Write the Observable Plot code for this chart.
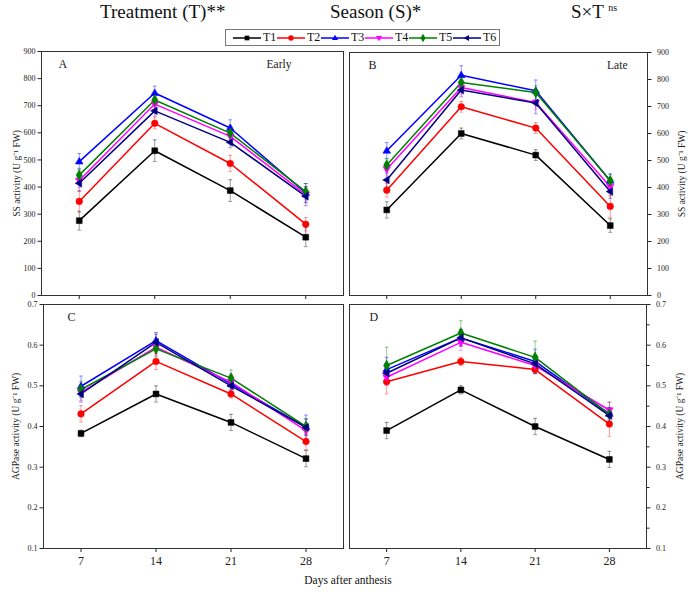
<!DOCTYPE html>
<html>
<head>
<meta charset="utf-8">
<script src="https://cdn.jsdelivr.net/npm/d3@7"></script>
<script src="https://cdn.jsdelivr.net/npm/@observablehq/plot@0.6"></script>
<style>
  body { margin: 0; background: white; }
  #wrap { position: relative; width: 688px; height: 592px; font-family: "Liberation Serif", serif; color: #111; }
  .abs { position: absolute; }
  .title { font-size: 19px; top: 1px; white-space: nowrap; }
  #legend { left: 225px; top: 29px; width: 275px; height: 17px; border: 1px solid #777; display: flex; align-items: center; padding-left: 7px; box-sizing: border-box; font-size: 12px; }
  #legend .item { display: flex; align-items: center; flex-shrink: 0; }
  #xlab { top: 574px; left: 248px; width: 200px; text-align: center; font-size: 11.5px; }
</style>
</head>
<body>
<div id="wrap">
  <div class="abs title" style="left:100px">Treatment (T)**</div>
  <div class="abs title" style="left:330px">Season (S)*</div>
  <div class="abs title" style="left:571px">S×T <sup style="font-size:10px">ns</sup></div>
  <div id="legend" class="abs"></div>
  <div id="xlab" class="abs">Days after anthesis</div>
</div>
<script>
const days = [7, 14, 21, 28];
const treatments = ["T1", "T2", "T3", "T4", "T5", "T6"];
const colors = ["#000000", "#ff0000", "#0000ff", "#ff00ff", "#008000", "#000080"];
const ssTicks = [0, 100, 200, 300, 400, 500, 600, 700, 800, 900];
const agpTicks = [0.1, 0.2, 0.3, 0.4, 0.5, 0.6, 0.7];

const ssEarly = [
  [276, 534, 387, 215],
  [347, 635, 487, 263],
  [494, 747, 618, 378],
  [424, 706, 587, 372],
  [444, 721, 599, 383],
  [414, 681, 565, 366]
];
const ssEarlyErr = [
  [35, 40, 40, 35],
  [40, 20, 30, 25],
  [30, 25, 30, 35],
  [25, 25, 25, 30],
  [25, 25, 25, 30],
  [30, 20, 20, 35]
];
const ssLate = [
  [317, 600, 520, 259],
  [390, 699, 620, 330],
  [536, 816, 758, 425],
  [468, 770, 715, 403],
  [483, 789, 752, 425],
  [428, 761, 713, 385]
];
const ssLateErr = [
  [30, 20, 20, 25],
  [25, 20, 20, 40],
  [30, 35, 40, 25],
  [25, 25, 25, 25],
  [25, 25, 25, 25],
  [25, 25, 40, 25]
];
const agpEarly = [
  [0.383, 0.480, 0.410, 0.321],
  [0.431, 0.560, 0.480, 0.363],
  [0.499, 0.611, 0.505, 0.398],
  [0.484, 0.595, 0.509, 0.390],
  [0.491, 0.591, 0.519, 0.400],
  [0.480, 0.607, 0.500, 0.398]
];
const agpEarlyErr = [
  [0.008, 0.02, 0.02, 0.02],
  [0.02, 0.02, 0.01, 0.02],
  [0.025, 0.02, 0.02, 0.03],
  [0.02, 0.02, 0.02, 0.02],
  [0.02, 0.02, 0.02, 0.02],
  [0.02, 0.02, 0.02, 0.02]
];
const agpLate = [
  [0.390, 0.490, 0.400, 0.319],
  [0.510, 0.560, 0.540, 0.406],
  [0.540, 0.618, 0.560, 0.431],
  [0.521, 0.607, 0.550, 0.440],
  [0.550, 0.630, 0.570, 0.430],
  [0.531, 0.618, 0.554, 0.427]
];
const agpLateErr = [
  [0.02, 0.01, 0.02, 0.02],
  [0.03, 0.01, 0.01, 0.03],
  [0.03, 0.02, 0.03, 0.015],
  [0.02, 0.02, 0.02, 0.02],
  [0.045, 0.03, 0.04, 0.03],
  [0.02, 0.02, 0.02, 0.02]
];

// custom symbols
const triDown = { draw(ctx, size) { const r = Math.sqrt(size) * 0.7; ctx.moveTo(0, r); ctx.lineTo(-r * 0.95, -r * 0.6); ctx.lineTo(r * 0.95, -r * 0.6); ctx.closePath(); } };
const triLeft = { draw(ctx, size) { const r = Math.sqrt(size) * 0.7; ctx.moveTo(-r, 0); ctx.lineTo(r * 0.6, -r * 0.95); ctx.lineTo(r * 0.6, r * 0.95); ctx.closePath(); } };
const triUp = { draw(ctx, size) { const r = Math.sqrt(size) * 0.7; ctx.moveTo(0, -r); ctx.lineTo(-r * 0.95, r * 0.6); ctx.lineTo(r * 0.95, r * 0.6); ctx.closePath(); } };
const cap = { draw(ctx, size) { const r = Math.sqrt(size) * 0.5; ctx.moveTo(-r, 0); ctx.lineTo(r, 0); } };
const symbols = ["square", "circle", triUp, triDown, "diamond", triLeft];

function rowsOf(vals, errs) {
  const rows = [];
  treatments.forEach((t, i) => days.forEach((d, j) => rows.push({t, day: d, v: vals[i][j], e: errs[i][j]})));
  return rows;
}

function panel(cfg) {
  const rows = rowsOf(cfg.vals, cfg.errs);
  const marks = [];
  // error bars
  marks.push(Plot.ruleX(rows, {x: "day", y1: d => d.v - d.e, y2: d => d.v + d.e, stroke: "t", strokeOpacity: 0.4, strokeWidth: 1}));
  marks.push(Plot.dot(rows, {x: "day", y: d => d.v - d.e, symbol: cap, r: 2.2, stroke: "t", strokeOpacity: 0.4, strokeWidth: 1}));
  marks.push(Plot.dot(rows, {x: "day", y: d => d.v + d.e, symbol: cap, r: 2.2, stroke: "t", strokeOpacity: 0.4, strokeWidth: 1}));
  marks.push(Plot.lineY(rows, {x: "day", y: "v", z: "t", stroke: "t", strokeWidth: 1.5}));
  treatments.forEach((t, i) => {
    marks.push(Plot.dot(rows.filter(d => d.t === t), {x: "day", y: "v", symbol: symbols[i], r: 3.3, fill: colors[i], stroke: colors[i], strokeWidth: 0.5}));
  });
  // axes
  marks.push(Plot.axisY({anchor: cfg.yAnchor, ticks: cfg.yTicks, tickSize: 3.5, tickPadding: cfg.yAnchor === "right" ? 6 : 2.5, fontSize: 8,
    tickFormat: cfg.yFormat, label: null}));
  if (cfg.minor) {
    marks.push(Plot.axisY({anchor: cfg.yAnchor, ticks: cfg.minor, tickSize: 2.5, tickFormat: () => "", label: null}));
  }
  marks.push(Plot.axisX({ticks: days, tickSize: 4, tickPadding: 4, fontSize: 12,
    tickFormat: cfg.xLabels ? d => String(d) : () => "", label: null}));
  marks.push(Plot.frame({stroke: "#333", strokeWidth: 1}));
  marks.push(Plot.text([cfg.letter], {frameAnchor: "top-left", text: d => d, dx: cfg.letterDx, dy: 8, fontSize: 12, textAnchor: "start"}));
  if (cfg.season) {
    marks.push(Plot.text([cfg.season], {frameAnchor: "top-right", text: d => d, dx: cfg.seasonDx, dy: 8, fontSize: 11.5, textAnchor: "end"}));
  }
  marks.push(Plot.text([cfg.ylabel], {frameAnchor: cfg.yAnchor, text: d => d, rotate: -90, dx: cfg.ylabDx, fontSize: 9.5, textAnchor: "middle"}));
  const p = Plot.plot({
    width: cfg.w, height: cfg.h,
    marginLeft: cfg.ml, marginRight: cfg.mr, marginTop: cfg.mt, marginBottom: cfg.mb,
    style: {background: "transparent", fontFamily: "Liberation Serif, serif", fontSize: "8px", color: "#222", overflow: "visible"},
    x: {domain: [3.5, 31.5]},
    y: {domain: cfg.domain},
    color: {domain: treatments, range: colors},
    marks
  });
  p.style.position = "absolute";
  p.style.left = cfg.left + "px";
  p.style.top = cfg.top + "px";
  document.getElementById("wrap").appendChild(p);
}

const ssLabel = "SS activity (U g\u207B\u00B9 FW)";
const agpLabel = "AGPase activity (U g\u207B\u00B9 FW)";
const fmtSS = d => String(d);
const fmtAgp = d => d.toFixed(1);
const agpMinor = [0.15, 0.25, 0.35, 0.45, 0.55, 0.65];

panel({left: 0, top: 40, w: 348, h: 265, ml: 41, mr: 5, mt: 11, mb: 10,
  vals: ssEarly, errs: ssEarlyErr, domain: [0, 900], yTicks: ssTicks, yFormat: fmtSS, yAnchor: "left",
  xLabels: false, letter: "A", letterDx: 17, season: "Early", seasonDx: -52, ylabel: ssLabel, ylabDx: -25});
panel({left: 345, top: 40, w: 343, h: 265, ml: 4, mr: 41, mt: 12, mb: 10,
  vals: ssLate, errs: ssLateErr, domain: [0, 900], yTicks: ssTicks, yFormat: fmtSS, yAnchor: "right",
  xLabels: false, letter: "B", letterDx: 19, season: "Late", seasonDx: -20, ylabel: ssLabel, ylabDx: 34});
panel({left: 0, top: 296, w: 348, h: 290, ml: 43, mr: 5, mt: 8, mb: 38,
  vals: agpEarly, errs: agpEarlyErr, domain: [0.1, 0.7], yTicks: agpTicks, yFormat: fmtAgp, yAnchor: "left",
  xLabels: true, letter: "C", letterDx: 24, ylabel: agpLabel, ylabDx: -28});
panel({left: 345, top: 296, w: 343, h: 290, ml: 4, mr: 42, mt: 8, mb: 38, minor: agpMinor,
  vals: agpLate, errs: agpLateErr, domain: [0.1, 0.7], yTicks: agpTicks, yFormat: fmtAgp, yAnchor: "right",
  xLabels: true, letter: "D", letterDx: 20, ylabel: agpLabel, ylabDx: 33});

// legend
const legend = document.getElementById("legend");
const d3syms = [d3.symbolSquare, d3.symbolCircle, triUp, triDown, d3.symbolDiamond, triLeft];
treatments.forEach((t, i) => {
  const item = document.createElement("div");
  item.className = "item";
  const path = d3.symbol(d3syms[i], 22)();
  item.innerHTML = `<svg width="28" height="10" style="display:block;flex-shrink:0"><line x1="0" x2="28" y1="5" y2="5" stroke="${colors[i]}" stroke-width="1.5"/><path d="${path}" transform="translate(14,5)" fill="${colors[i]}"/></svg><span style="margin-left:2px;width:14px;display:inline-block">${t}</span>`;
  legend.appendChild(item);
});
</script>
</body>
</html>
